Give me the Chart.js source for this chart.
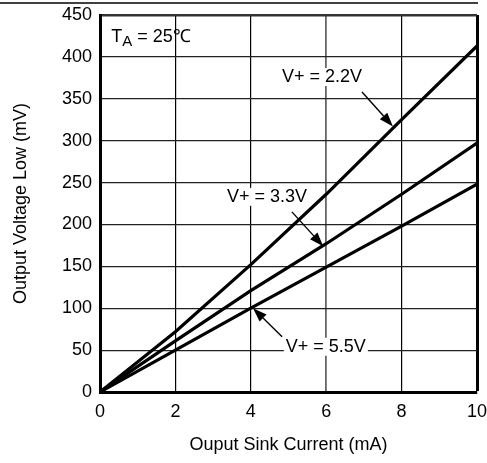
<!DOCTYPE html>
<html>
<head>
<meta charset="utf-8">
<script src="https://cdn.jsdelivr.net/npm/chart.js@4.4.1/dist/chart.umd.min.js"></script>
<style>
  html, body { margin: 0; padding: 0; background: #fff; }
  #wrap { width: 487px; height: 463px; }
</style>
</head>
<body>
<div id="wrap"><canvas id="chart" width="487" height="463"></canvas></div>
<script>
  // Output low voltage vs sink current, T_A = 25C
  const current = [0, 2, 4, 6, 8, 10];          // mA
  const vol22 = [0, 72, 152, 236, 325, 413];     // mV, V+ = 2.2V
  const vol33 = [0, 61, 121, 177, 236, 297];     // mV, V+ = 3.3V
  const vol55 = [0, 50, 100, 149, 198, 248];     // mV, V+ = 5.5V
  const xTicks = [0, 2, 4, 6, 8, 10];
  const yTicks = [0, 50, 100, 150, 200, 250, 300, 350, 400, 450];

  const FONT = "'Liberation Sans', Arial, sans-serif";
  const FS = 18;

  // labels and their arrows, in data units
  const notes = [
    { text: "V+ = 2.2V", at: [5.89, 376], from: [6.95, 358], to: [7.77, 317] },
    { text: "V+ = 3.3V", at: [4.43, 233], from: [5.09, 215], to: [5.92, 174] },
    { text: "V+ = 5.5V", at: [5.99, 54], from: [4.83, 66], to: [4.06, 100] }
  ];

  const toPts = arr => current.map((x, i) => ({ x, y: arr[i] }));

  function arrow(ctx, x1, y1, x2, y2) {
    const ang = Math.atan2(y2 - y1, x2 - x1);
    const len = 14, half = 5;
    const bx = x2 - len * Math.cos(ang), by = y2 - len * Math.sin(ang);
    ctx.beginPath();
    ctx.moveTo(x1, y1);
    ctx.lineTo(bx, by);
    ctx.lineWidth = 1.4;
    ctx.strokeStyle = "#000";
    ctx.stroke();
    ctx.beginPath();
    ctx.moveTo(x2, y2);
    ctx.lineTo(bx + half * Math.sin(ang), by - half * Math.cos(ang));
    ctx.lineTo(bx - half * Math.sin(ang), by + half * Math.cos(ang));
    ctx.closePath();
    ctx.fillStyle = "#000";
    ctx.fill();
  }

  const decor = {
    id: "decor",
    beforeDatasetsDraw(chart) {
      const { ctx, scales: { x, y } } = chart;
      ctx.save();
      ctx.font = FS + "px " + FONT;
      ctx.textAlign = "center";
      ctx.textBaseline = "middle";
      notes.forEach(n => {
        const px = x.getPixelForValue(n.at[0]);
        const py = y.getPixelForValue(n.at[1]);
        const w = ctx.measureText(n.text).width;
        ctx.fillStyle = "#fff";
        ctx.fillRect(px - w / 2 - 2, py - 9, w + 4, 18);
        ctx.fillStyle = "#000";
        ctx.fillText(n.text, px, py);
      });

      // T_A = 25C
      const tx = x.getPixelForValue(0.3);
      const ty = y.getPixelForValue(418);
      ctx.textAlign = "left";
      ctx.textBaseline = "alphabetic";
      ctx.fillStyle = "#000";
      ctx.fillText("T", tx, ty);
      let cx = tx + ctx.measureText("T").width;
      ctx.font = "15px " + FONT;
      ctx.fillText("A", cx, ty + 4);
      cx += ctx.measureText("A").width;
      ctx.font = FS + "px " + FONT;
      ctx.fillText(" = 25\u2103", cx, ty);
      ctx.restore();
    },
    afterDatasetsDraw(chart) {
      const { ctx, scales: { x, y } } = chart;
      ctx.save();
      notes.forEach(n => {
        arrow(ctx,
          x.getPixelForValue(n.from[0]), y.getPixelForValue(n.from[1]),
          x.getPixelForValue(n.to[0]), y.getPixelForValue(n.to[1]));
      });
      ctx.restore();
    },
    afterDraw(chart) {
      // page rule at the very top
      const { ctx, chartArea } = chart;
      ctx.save();
      ctx.beginPath();
      ctx.moveTo(0, 3);
      ctx.lineTo(chartArea.right + 1, 3);
      ctx.lineWidth = 1.5;
      ctx.strokeStyle = "#000";
      ctx.stroke();
      ctx.restore();
    }
  };

  const line = (label, data) => ({
    label,
    data: toPts(data),
    borderColor: "#000",
    borderWidth: 3.2,
    pointRadius: 0,
    tension: 0,
    fill: false
  });

  new Chart(document.getElementById("chart"), {
    type: "line",
    data: {
      datasets: [
        line("V+ = 2.2V", vol22),
        line("V+ = 3.3V", vol33),
        line("V+ = 5.5V", vol55)
      ]
    },
    options: {
      responsive: false,
      animation: false,
      devicePixelRatio: 1,
      layout: { padding: { top: 15, right: 10, left: 0, bottom: 0 } },
      plugins: { legend: { display: false }, tooltip: { enabled: false } },
      scales: {
        x: {
          type: "linear",
          min: 0, max: 10,
          afterFit: s => { s.height = 71; s.paddingLeft = 0; s.paddingRight = 0; },
          afterBuildTicks: s => { s.ticks = xTicks.map(v => ({ value: v })); },
          ticks: { color: "#000", font: { family: FONT, size: FS }, padding: 9, maxRotation: 0 },
          grid: {
            drawTicks: false,
            color: c => c.tick && c.tick.value === 6 ? "#666" : "#000",
            lineWidth: c => c.tick && (c.tick.value === 10) ? 3 : (c.tick && c.tick.value === 6 ? 1.8 : 1.2)
          },
          border: { color: "#000", width: 3 },
          title: {
            display: true,
            text: "Ouput Sink Current (mA)",
            color: "#000",
            font: { family: FONT, size: FS },
            padding: { top: 0, bottom: 7 }
          }
        },
        y: {
          type: "linear",
          min: 0, max: 450,
          afterFit: s => { s.width = 100; s.paddingTop = 0; s.paddingBottom = 0; },
          afterBuildTicks: s => { s.ticks = yTicks.map(v => ({ value: v })); },
          ticks: { color: "#000", font: { family: FONT, size: FS }, padding: 8 },
          grid: {
            drawTicks: false,
            color: c => c.tick && c.tick.value === 450 ? "#333" : "#222",
            lineWidth: c => c.tick && c.tick.value === 450 ? 2.5 : 1.2
          },
          border: { color: "#000", width: 3 },
          title: {
            display: true,
            text: "Output Voltage Low (mV)",
            color: "#000",
            font: { family: FONT, size: FS },
            padding: { top: 10, bottom: 0 }
          }
        }
      }
    },
    plugins: [decor]
  });
</script>
</body>
</html>
